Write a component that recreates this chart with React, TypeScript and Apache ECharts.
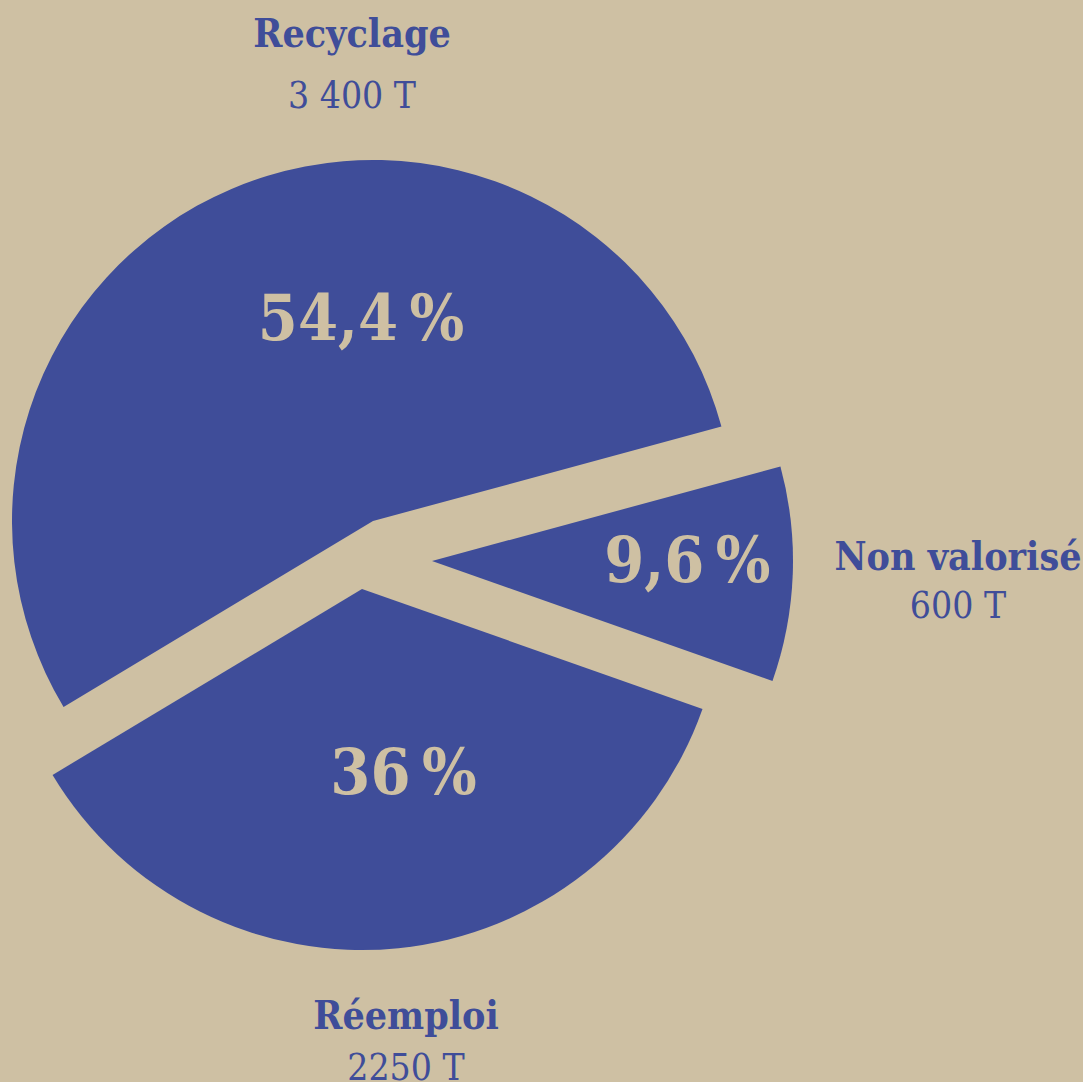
import React, { useEffect, useRef } from "react";
import * as echarts from "echarts";

const categories = ["Recyclage", "Non valorisé", "Réemploi"];
const tonnes = [3400, 600, 2250];
const tonneLabels = ["3 400 T", "600 T", "2250 T"];

const BG = "#CEC0A3";
const BLUE = "#3F4D99";
const FONT = "'DejaVu Serif Condensed', 'DejaVu Serif', serif";

// layout (positions, not data)
const centers = [
  [373, 521],
  [432, 561],
  [362, 589],
];
const RADIUS = 361;
const START_ANGLE = 211;
const pctOffsets = [
  [60, -35],
  [72, -8],
  [23, 0],
];
const namePos = [
  [352, 33, 95],
  [958, 556, 605],
  [406, 1015, 1067],
];

const fmtPct = (p: number) => String(p).replace(".", ",") + "\u2009%";

export default function App() {
  const ref = useRef<HTMLDivElement>(null);
  useEffect(() => {
    document.body.style.margin = "0";
    const chart = echarts.init(ref.current!, null, { renderer: "svg" });
    const series = categories.map((_, i) => ({
      type: "pie",
      center: centers[i],
      radius: RADIUS,
      startAngle: START_ANGLE,
      clockwise: true,
      silent: true,
      avoidLabelOverlap: false,
      emphasis: { disabled: true },
      label: { show: false },
      labelLine: { show: false },
      data: categories.map((n, j) => ({
        name: n,
        value: tonnes[j],
        itemStyle: { color: j === i ? BLUE : "rgba(0,0,0,0)" },
        label:
          j === i
            ? {
                show: true,
                position: "inside",
                offset: pctOffsets[i],
                formatter: (p: any) => fmtPct(p.percent),
                color: BG,
                fontSize: 64,
                fontWeight: "bold",
                fontFamily: FONT,
              }
            : { show: false },
      })),
    }));
    const graphics: any[] = [];
    categories.forEach((n, i) => {
      graphics.push({
        type: "text",
        x: namePos[i][0],
        y: namePos[i][1],
        style: {
          text: n,
          fill: BLUE,
          font: `bold 39px ${FONT}`,
          textAlign: "center",
          textVerticalAlign: "middle",
        },
      });
      graphics.push({
        type: "text",
        x: namePos[i][0],
        y: namePos[i][2],
        style: {
          text: tonneLabels[i],
          fill: BLUE,
          font: `normal 37px ${FONT}`,
          textAlign: "center",
          textVerticalAlign: "middle",
        },
      });
    });
    chart.setOption({
      animation: false,
      backgroundColor: BG,
      series,
      graphic: graphics,
    });
    return () => chart.dispose();
  }, []);
  return <div ref={ref} style={{ width: 1083, height: 1082 }} />;
}
